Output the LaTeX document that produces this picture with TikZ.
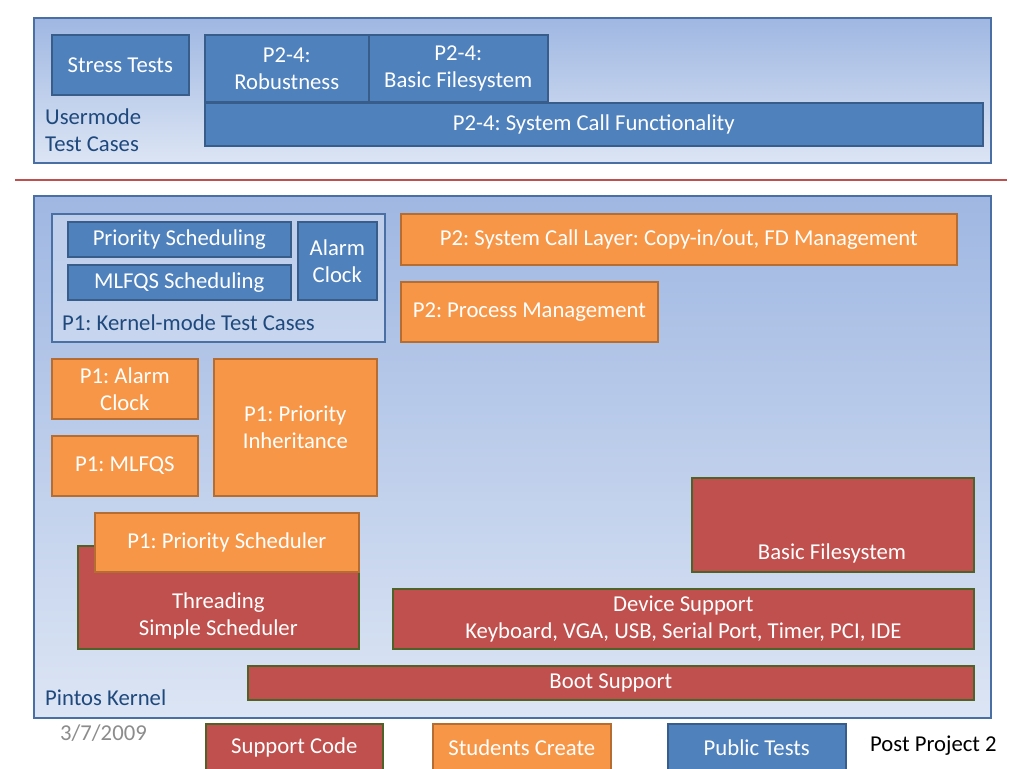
\documentclass[tikz,border=0pt]{standalone}
\usepackage{fontspec}
\setmainfont{Carlito}
\frenchspacing
\definecolor{pblue}{HTML}{4F81BD}
\definecolor{pblueb}{HTML}{385D8A}
\definecolor{porange}{HTML}{F79646}
\definecolor{porangeb}{HTML}{B66D31}
\definecolor{pred}{HTML}{C0504D}
\definecolor{predb}{HTML}{4F6228}
\definecolor{panelb}{HTML}{4A6FA5}
\definecolor{lbl}{HTML}{1F497D}
\definecolor{ptop}{HTML}{9FB7E2}
\definecolor{pbot}{HTML}{DCE5F4}
\definecolor{dategray}{HTML}{8C8C8C}
\newcommand\mybox[7]{\node[#2, minimum width={(#5-#3)*1pt}, minimum height={(#6-#4)*1pt}] (#1) at (#3,#4) {#7};}
\begin{document}
\begin{tikzpicture}[x=1pt,y=-1pt,
  every node/.style={font=\fontsize{22.7}{27}\selectfont},
  base/.style={draw, line width=1.6pt, rectangle, inner sep=0pt, anchor=north west, align=center, text=white},
  bluebox/.style={base, fill=pblue, draw=pblueb},
  orangebox/.style={base, fill=porange, draw=porangeb},
  redbox/.style={base, fill=pred, draw=predb},
  panel/.style={base, draw=panelb, line width=1.8pt, top color=ptop, bottom color=pbot},
  subpanel/.style={base, draw=panelb, line width=1.6pt, fill=white, fill opacity=0.3, draw opacity=1},
  lab/.style={text=lbl, align=left, inner sep=0pt, anchor=west},
  plain/.style={inner sep=0pt}
]
\useasboundingbox (0,0) rectangle (1024,768);
\clip (0,0) rectangle (1024,768);
\fill[white] (0,0) rectangle (1024,768);

% top panel
\mybox{usr}{panel}{33}{17}{990}{162}{}
\node[lab] (usrlab) at (45,130) {Usermode\\Test Cases};
\mybox{stress}{bluebox}{51}{34}{188}{94}{Stress Tests}
\mybox{robust}{bluebox}{204}{34}{368}{101}{P2-4:\\Robustness}
\mybox{bfstest}{bluebox}{368}{34}{547}{101}{P2-4:\\Basic Filesystem}
\mybox{scf}{bluebox}{204}{102}{982}{145}{P2-4: System Call Functionality}

% separator
\coordinate (sepL) at (15,180);
\coordinate (sepR) at (1007,180);
\draw[pred, line width=2.6pt] (sepL) -- (sepR);

% kernel panel
\mybox{kern}{panel}{33}{195}{990}{717}{}
\node[lab] (kernlab) at (45,698) {Pintos Kernel};

\mybox{kmt}{subpanel}{51}{213}{384}{341}{}
\node[lab] (kmtlab) at (62,323) {P1: Kernel-mode Test Cases};
\mybox{prisch}{bluebox}{67}{221}{290}{256}{Priority Scheduling}
\mybox{mlfqsch}{bluebox}{67}{264}{290}{299}{MLFQS Scheduling}
\mybox{alarmt}{bluebox}{297}{221}{376}{299}{Alarm\\Clock}

\mybox{syscall}{orangebox}{400}{213}{956}{264}{P2: System Call Layer: Copy-in/out, FD Management}
\mybox{procm}{orangebox}{400}{281}{657}{341}{P2: Process Management}
\mybox{alarm}{orangebox}{51}{358}{197}{418}{P1: Alarm\\Clock}
\mybox{mlfqs}{orangebox}{51}{435}{197}{495}{P1: MLFQS}
\mybox{inher}{orangebox}{213}{358}{376}{495}{P1: Priority\\Inheritance}

\mybox{thread}{redbox}{77}{545}{358}{648}{\rule{0pt}{26pt}\\Threading\\Simple Scheduler}
\mybox{prisched}{orangebox}{94}{512}{358}{571}{P1: Priority Scheduler}
\mybox{bfs}{redbox}{691}{477}{973}{571}{}
\node[plain, text=white] (bfslab) at (832,553) {Basic Filesystem};
\mybox{dev}{redbox}{392}{588}{973}{648}{Device Support\\Keyboard, VGA, USB, Serial Port, Timer, PCI, IDE}
\mybox{boot}{redbox}{247}{665}{973}{699}{Boot Support}

% footer
\node[plain, text=dategray, anchor=west] (date) at (60,733) {3/7/2009};
\mybox{lsup}{redbox}{205}{723}{382}{771}{Support Code}
\mybox{lstu}{orangebox}{432}{723}{610}{771}{Students Create}
\mybox{lpub}{bluebox}{667}{723}{845}{771}{Public Tests}
\node[plain, anchor=west] (post) at (870,746) {Post Project 2};
\end{tikzpicture}
\end{document}
